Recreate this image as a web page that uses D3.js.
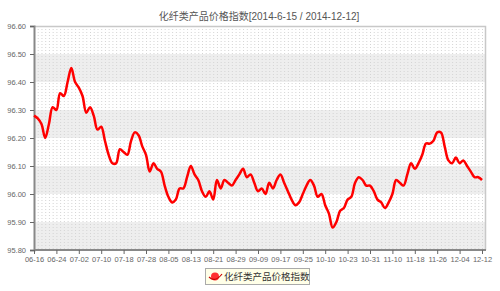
<!DOCTYPE html>
<html>
<head>
<meta charset="utf-8">
<script src="https://cdn.jsdelivr.net/npm/d3@7"></script>
<style>
  body { margin: 0; background: #fff; }
  svg text { font-family: "Liberation Sans", Arial, "Noto Sans CJK SC", sans-serif; }
</style>
</head>
<body>
<div id="chart"></div>
<script>
(function(){

    const title = "化纤类产品价格指数[2014-6-15 / 2014-12-12]";
    const seriesName = "化纤类产品价格指数";

    // one value per trading day, 06-16 .. 12-12
    const values = [
        96.28, 96.27, 96.25, 96.20, 96.25, 96.31, 96.30, 96.36, 96.35, 96.40,
        96.45, 96.40, 96.38, 96.35, 96.29, 96.31, 96.28, 96.23, 96.24, 96.19,
        96.14, 96.11, 96.11, 96.16, 96.15, 96.14, 96.19, 96.22, 96.21, 96.17,
        96.14, 96.08, 96.11, 96.09, 96.08, 96.03, 95.99, 95.97, 95.98, 96.02,
        96.02, 96.06, 96.10, 96.07, 96.05, 96.01, 95.99, 96.01, 95.98, 96.05,
        96.02, 96.05, 96.04, 96.03, 96.05, 96.07, 96.09, 96.06, 96.07, 96.04,
        96.01, 96.02, 96.00, 96.04, 96.02, 96.05, 96.07, 96.04, 96.01, 95.98,
        95.96, 95.97, 96.00, 96.03, 96.05, 96.03, 95.99, 96.00, 95.96, 95.93,
        95.88, 95.90, 95.94, 95.95, 95.98, 95.99, 96.04, 96.06, 96.05, 96.03,
        96.03, 96.01, 95.98, 95.97, 95.95, 95.97, 96.00, 96.05, 96.04, 96.03,
        96.07, 96.11, 96.09, 96.11, 96.14, 96.18, 96.18, 96.19, 96.22, 96.22,
        96.17, 96.12, 96.11, 96.13, 96.11, 96.12, 96.10, 96.08, 96.06, 96.06,
        96.05
    ];

    // a label every 6 trading days
    const tickLabels = ["06-16", "06-24", "07-02", "07-10", "07-18", "07-28", "08-05",
        "08-13", "08-21", "08-29", "09-09", "09-17", "09-25", "10-10", "10-23",
        "10-31", "11-10", "11-18", "11-26", "12-04", "12-12"];
    const tickStep = 6;

    const yTicks = [95.80, 95.90, 96.00, 96.10, 96.20, 96.30, 96.40, 96.50, 96.60];

    const width = 500, height = 291;
    const margin = { top: 26, right: 15, bottom: 41, left: 34 };
    const plotW = width - margin.left - margin.right;
    const plotH = height - margin.top - margin.bottom;

    const svg = d3.select("#chart").append("svg")
        .attr("width", width)
        .attr("height", height);

    const x = d3.scaleLinear()
        .domain([0, values.length - 1])
        .range([margin.left, margin.left + 448]);

    const y = d3.scaleLinear()
        .domain([95.8, 96.6])
        .range([margin.top + plotH, margin.top]);

    // alternating bands
    const bands = [];
    for (let i = 0; i < yTicks.length - 1; i++) {
        if (i % 2 === 0) bands.push([yTicks[i], yTicks[i + 1]]);
    }
    svg.append("g").selectAll("rect")
        .data(bands)
        .enter().append("rect")
        .attr("x", margin.left)
        .attr("width", plotW)
        .attr("y", d => y(d[1]))
        .attr("height", d => y(d[0]) - y(d[1]))
        .attr("fill", "#eeeeee");

    // dotted vertical grid, one per point
    svg.append("g").selectAll("line")
        .data(d3.range(values.length))
        .enter().append("line")
        .attr("x1", d => x(d) + 0.5)
        .attr("x2", d => x(d) + 0.5)
        .attr("y1", margin.top)
        .attr("y2", margin.top + plotH)
        .attr("stroke", "#d4d4d4")
        .attr("stroke-width", 1)
        .attr("stroke-dasharray", "1,2");

    // frame (top and right)
    svg.append("path")
        .attr("d", `M${margin.left},${margin.top + 0.5}H${margin.left + plotW + 0.5}V${margin.top + plotH}`)
        .attr("fill", "none")
        .attr("stroke", "#c8c8c8")
        .attr("stroke-width", 1.5);

    // y axis
    const yAxis = svg.append("g")
        .attr("transform", `translate(${margin.left},0)`)
        .call(d3.axisLeft(y).tickValues(yTicks).tickFormat(d3.format(".2f")).tickSize(4).tickPadding(4));
    yAxis.select(".domain").attr("stroke", "#888").attr("stroke-width", 2);
    yAxis.selectAll(".tick line").attr("stroke", "#666");
    yAxis.selectAll("text").attr("fill", "#666").attr("font-size", 7.5);

    // x axis
    const xAxis = svg.append("g")
        .attr("transform", `translate(0,${margin.top + plotH})`)
        .call(d3.axisBottom(x)
            .tickValues(tickLabels.map((d, i) => i * tickStep))
            .tickFormat((d, i) => tickLabels[i])
            .tickSize(4).tickPadding(3));
    xAxis.select(".domain").attr("d", `M${margin.left},0H${margin.left + plotW + 1}`)
        .attr("stroke", "#888").attr("stroke-width", 2);
    xAxis.selectAll(".tick line").attr("stroke", "#666");
    xAxis.selectAll("text").attr("fill", "#666").attr("font-size", 7.5);

    // series line
    const line = d3.line()
        .x((d, i) => x(i))
        .y(d => y(d))
        .curve(d3.curveCatmullRom.alpha(0.5));

    svg.append("path")
        .datum(values)
        .attr("d", line)
        .attr("fill", "none")
        .attr("stroke", "#ff0000")
        .attr("stroke-width", 2.5)
        .attr("stroke-linejoin", "round");

    // title
    svg.append("text")
        .attr("x", 259)
        .attr("y", 20)
        .attr("text-anchor", "middle")
        .attr("font-size", 10)
        .attr("fill", "#555")
        .text(title);

    // legend
    const lg = svg.append("g").attr("transform", "translate(205,268)");
    lg.append("rect")
        .attr("x", 0.5).attr("y", 0.5)
        .attr("width", 104).attr("height", 16)
        .attr("fill", "#ffffe8")
        .attr("stroke", "#aaa");
    lg.append("circle")
        .attr("cx", 10).attr("cy", 8.5).attr("r", 4)
        .attr("fill", "#ff3030");
    lg.append("path")
        .attr("d", "M4,9 Q10,15 17,6")
        .attr("fill", "none")
        .attr("stroke", "#c00")
        .attr("stroke-width", 1.2);
    lg.append("text")
        .attr("x", 19).attr("y", 12)
        .attr("font-size", 9.5)
        .attr("fill", "#333")
        .text(seriesName);

})();
</script>
</body>
</html>
